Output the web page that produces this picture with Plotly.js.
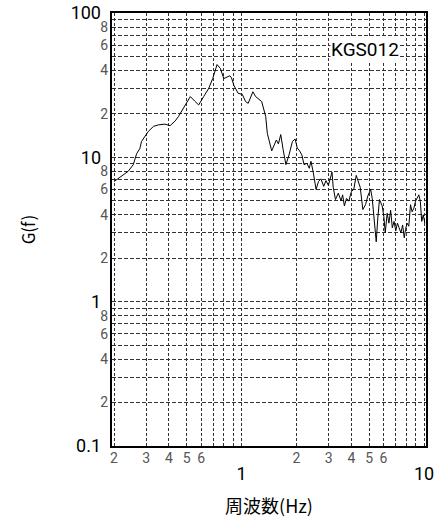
<!DOCTYPE html>
<html>
<head>
<meta charset="utf-8">
<script src="https://cdn.plot.ly/plotly-3.0.1.min.js"></script>
<style>html,body{margin:0;padding:0;background:#fff;}#chart{width:439px;height:521px;}</style>
</head>
<body>
<div id="chart"></div>
<script>
// Frequency (Hz) and spectral amplitude G(f)
const freqHz = [
  0.200, 0.239, 0.255, 0.266, 0.277, 0.283, 0.308, 0.329, 0.350, 0.380, 0.406, 0.433, 0.451, 0.481,
  0.524, 0.553, 0.582, 0.620, 0.660, 0.695, 0.734, 0.766, 0.799, 0.862, 0.881, 0.907, 0.958, 1.008,
  1.052, 1.087, 1.154, 1.194, 1.289, 1.356, 1.384, 1.463, 1.507, 1.552, 1.592, 1.640, 1.690, 1.750,
  1.820, 1.900, 1.966, 2.020, 2.080, 2.140, 2.200, 2.280, 2.350, 2.400, 2.470, 2.560, 2.640, 2.720,
  2.820, 2.900, 2.990, 3.070, 3.130, 3.180, 3.270, 3.390, 3.510, 3.580, 3.660, 3.760, 3.870, 4.000,
  4.120, 4.250, 4.340, 4.470, 4.620, 4.780, 4.920, 5.100, 5.200, 5.300, 5.470, 5.580, 5.700, 5.900,
  6.020, 6.130, 6.280, 6.420, 6.560, 6.700, 6.850, 7.000, 7.150, 7.300, 7.470, 7.630, 7.790, 7.920,
  8.070, 8.250, 8.430, 8.600, 8.800, 8.980, 9.170, 9.360, 9.540, 9.710, 9.900, 10.10
];
const gValues = [
  6.8, 8.0, 8.9, 10.6, 11.5, 12.9, 15.1, 16.4, 16.8, 17.0, 16.6, 17.9, 19.2, 21.9,
  26.4, 24.6, 23.1, 26.4, 30.0, 35.2, 44.0, 41.3, 35.2, 36.8, 35.6, 31.6, 27.8, 27.4,
  24.4, 23.7, 28.5, 26.4, 24.4, 19.2, 14.7, 11.1, 12.2, 13.2, 12.4, 14.4, 11.3, 8.9,
  10.4, 12.9, 13.4, 11.6, 11.1, 10.4, 8.9, 9.1, 8.4, 9.4, 7.9, 6.0, 6.8, 7.1,
  6.3, 6.9, 6.4, 7.4, 7.9, 6.2, 5.1, 5.65, 5.0, 5.5, 4.6, 5.2, 4.97, 5.8,
  6.0, 7.5, 6.8, 6.2, 4.35, 4.7, 5.4, 6.0, 5.2, 3.9, 2.6, 3.8, 5.1, 4.6,
  3.9, 3.0, 4.1, 3.5, 4.3, 3.25, 3.6, 3.1, 3.5, 3.25, 3.0, 3.4, 2.77, 3.17,
  3.5, 3.33, 4.7, 4.2, 4.45, 4.97, 5.2, 5.5, 4.97, 3.6, 4.0, 3.5
];

// Gridline positions and tick labels
const xGridVals = [0.2,0.3,0.4,0.5,0.6,0.7,0.8,0.9,1,2,3,4,5,6,7,8,9,10];
const xGridText = ["2","3","4","5","6","","","","","2","3","4","5","6","","","",""];
const xMajorVals = [1, 10];
const xMajorText = ["1", "10"];
const yGridVals = [0.1,0.2,0.3,0.4,0.5,0.6,0.7,0.8,0.9,1,2,3,4,5,6,7,8,9,10,20,30,40,50,60,70,80,90,100];
const yGridText = ["","2","","4","","6","","8","","","2","","4","","6","","8","","","2","","4","","6","","8","",""];
const yMajorVals = [0.1, 1, 10, 100];
const yMajorText = ["0.1", "1", "10", "100"];
const stationLabel = "KGS012";

const NUM = "Roboto, 'Liberation Sans', sans-serif";
const JP = "'Noto Sans CJK JP', 'Noto Sans', sans-serif";
const xRange = [Math.log10(0.195), Math.log10(10.25)];
const yRange = [-1.001, 2.001];
const GRIDCOLOR = '#333';

const data = [
  {x: freqHz, y: gValues, type: 'scatter', mode: 'lines',
   line: {color: '#000', width: 1}, hoverinfo: 'x+y', xaxis: 'x', yaxis: 'y'},
  {x: [], y: [], type: 'scatter', mode: 'lines', xaxis: 'x2', yaxis: 'y2', showlegend: false}
];

const layout = {
  width: 439, height: 521,
  margin: {l: 112, r: 13, t: 13, b: 75},
  paper_bgcolor: '#fff', plot_bgcolor: '#fff',
  showlegend: false,
  xaxis: {
    type: 'log', range: xRange, tickmode: 'array', tickvals: xGridVals, ticktext: xGridText,
    ticks: '', ticklabelstandoff: -2, tickfont: {family: NUM, size: 14, color: '#555'},
    showgrid: true, gridcolor: GRIDCOLOR, gridwidth: 1, griddash: '3px,2px',
    showline: true, mirror: true, linecolor: '#000', linewidth: 2, zeroline: false,
    title: {text: '周波数(Hz)', font: {family: JP, size: 18, color: '#000'}, standoff: 36}
  },
  xaxis2: {
    type: 'log', range: xRange, overlaying: 'x', anchor: 'y', side: 'bottom',
    tickmode: 'array', tickvals: xMajorVals, ticktext: xMajorText, ticks: '',
    showgrid: false, showline: false, zeroline: false, ticklabelstandoff: 15,
    ticklabeloverflow: 'allow',
    tickfont: {family: NUM, size: 18, color: '#000'}
  },
  yaxis: {
    type: 'log', range: yRange, tickmode: 'array', tickvals: yGridVals, ticktext: yGridText,
    ticks: '', ticklabelstandoff: -1, tickfont: {family: NUM, size: 14, color: '#555'},
    showgrid: true, gridcolor: GRIDCOLOR, gridwidth: 1, griddash: '4px,2px',
    showline: true, mirror: true, linecolor: '#000', linewidth: 2, zeroline: false,
    title: {text: 'G(f)', font: {family: JP, size: 17, color: '#000'}, standoff: 60}
  },
  yaxis2: {
    type: 'log', range: yRange, overlaying: 'y', anchor: 'x', side: 'left',
    tickmode: 'array', tickvals: yMajorVals, ticktext: yMajorText, ticks: '',
    showgrid: false, showline: false, zeroline: false, ticklabelstandoff: 10,
    ticklabeloverflow: 'allow',
    tickfont: {family: NUM, size: 18, color: '#000'}
  },
  annotations: [{
    text: stationLabel, xref: 'paper', yref: 'paper', x: 0.806, y: 0.916,
    xanchor: 'center', yanchor: 'middle', showarrow: false,
    font: {family: NUM, size: 19, color: '#000'}, bgcolor: '#fff', borderpad: 0
  }]
};

Plotly.newPlot('chart', data, layout, {displayModeBar: false, staticPlot: true});
</script>
</body>
</html>
